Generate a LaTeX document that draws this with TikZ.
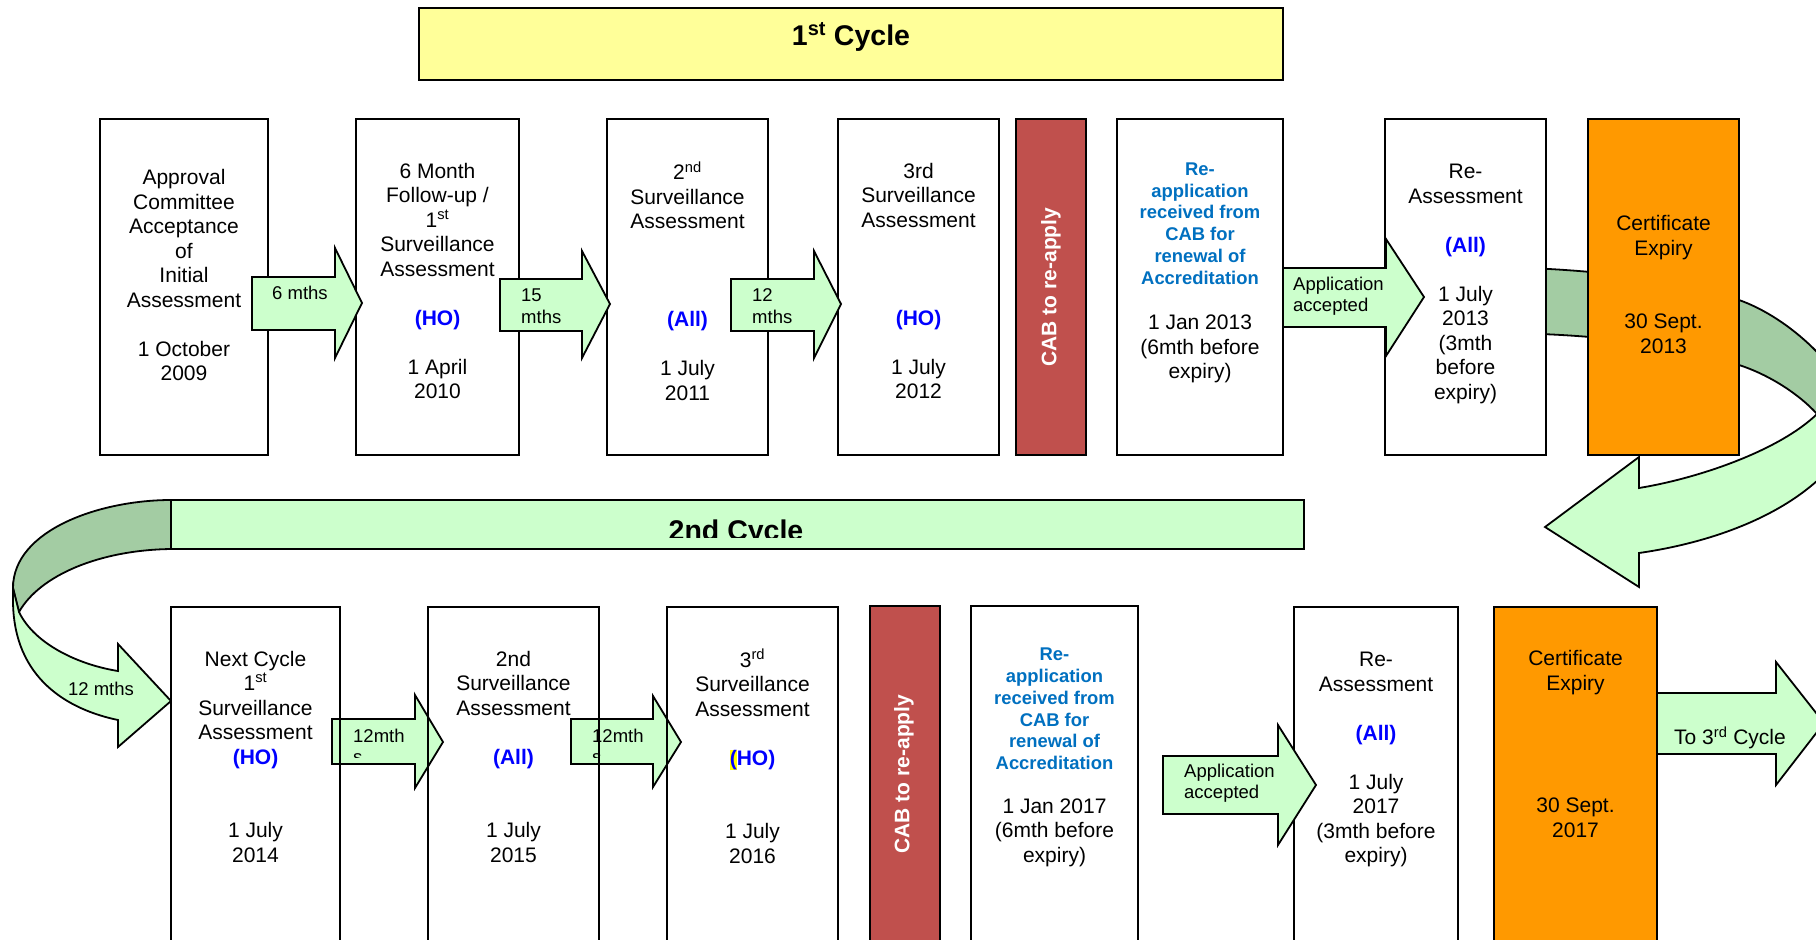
\documentclass[tikz,border=0pt]{standalone}
\usepackage{fontspec}
\setmainfont{Liberation Sans}
\definecolor{lgreen}{HTML}{CCFFCC}
\definecolor{dgreen}{HTML}{A3CCA3}
\definecolor{ttlyellow}{HTML}{FFFF99}
\definecolor{cabred}{HTML}{C0504D}
\definecolor{certorange}{HTML}{FF9900}
\definecolor{hoblue}{HTML}{0000FF}
\definecolor{reblue}{HTML}{0070C0}
\definecolor{hlyellow}{HTML}{FFFF00}
\newcommand{\hob}[1]{\textcolor{hoblue}{\bfseries #1}}
\newcommand{\bl}{\mbox{}}
\tikzset{
  rowone/.style={draw=black, line width=2pt, fill=white, inner sep=0pt, minimum height=336pt},
  rowtwo/.style={inner sep=0pt, minimum height=354pt},
  ribbon/.style={draw=black, line width=1.8pt, line join=miter},
  blk/.style={draw=black, line width=1.8pt, fill=lgreen, line join=miter},
  txt/.style={align=center, inner sep=0pt, font=\fontsize{21}{24.5}\selectfont},
  lbl/.style={align=left, inner sep=0pt, font=\fontsize{18.5}{21.5}\selectfont},
  bluetxt/.style={align=center, inner sep=0pt, text=reblue, font=\fontsize{18.4}{21.8}\selectfont\bfseries},
  cabtxt/.style={rotate=90, inner sep=0pt, text=white, font=\fontsize{21}{24}\selectfont\bfseries},
  bigtxt/.style={inner sep=0pt, font=\fontsize{28.5}{32}\selectfont\bfseries},
}
\begin{document}
\begin{tikzpicture}[x=1pt,y=-1pt]
\useasboundingbox (0,0) rectangle (1816,940);
\clip (0,0) rectangle (1816,940);

% ---------- title ----------
\node[draw=black, line width=2pt, fill=ttlyellow, inner sep=0pt, minimum width=864pt, minimum height=72pt] (title) at (851,44) {};
\node[bigtxt, anchor=base] (titletxt) at (851,45) {1\textsuperscript{st} Cycle};

% ---------- right curved ribbon arrow ----------
\draw[ribbon, fill=dgreen] (1500,267) .. controls (1620,270) and (1700,285) .. (1739,300)
  .. controls (1790,318) and (1845,370) .. (1860,420) -- (1817,414)
  .. controls (1800,395) and (1770,375) .. (1739,365)
  .. controls (1680,345) and (1600,334) .. (1500,333) -- cycle;
\draw[ribbon, fill=lgreen] (1817,414) .. controls (1780,450) and (1700,478) .. (1639,488)
  -- (1639,457) -- (1545,527) -- (1639,587) -- (1639,553)
  .. controls (1730,540) and (1830,500) .. (1860,420) -- cycle;

% ---------- row 1 boxes ----------
\node[rowone, minimum width=168pt] (b1) at (184,287) {};
\node[rowone, minimum width=163pt] (b2) at (437.5,287) {};
\node[rowone, minimum width=161pt] (b3) at (687.5,287) {};
\node[rowone, minimum width=161pt] (b4) at (918.5,287) {};
\node[rowone, minimum width=70pt, fill=cabred] (r1) at (1051,287) {};
\node[rowone, minimum width=166pt] (b5) at (1200,287) {};
\node[rowone, minimum width=161pt] (b6) at (1465.5,287) {};
\node[rowone, minimum width=151pt, fill=certorange] (o1) at (1663.5,287) {};

\node[txt] (t1) at (184,275) {Approval\\Committee\\Acceptance\\of\\Initial\\Assessment\\\bl\\1 October\\2009};
\node[txt] (t2) at (437.5,281) {6 Month\\Follow-up /\\1\textsuperscript{st}\\Surveillance\\Assessment\\\bl\\\hob{(HO)}\\\bl\\1 April\\2010};
\node[txt] (t3) at (687.5,281) {2\textsuperscript{nd}\\Surveillance\\Assessment\\\bl\\\bl\\\bl\\\hob{(All)}\\\bl\\1 July\\2011};
\node[txt] (t4) at (918.5,281) {3rd\\Surveillance\\Assessment\\\bl\\\bl\\\bl\\\hob{(HO)}\\\bl\\1 July\\2012};
\node[cabtxt] (c1) at (1051,287) {CAB to re-apply};
\node[bluetxt] (t5a) at (1200,223.5) {Re-\\application\\received from\\CAB for\\renewal of\\Accreditation};
\node[txt] (t5b) at (1200,349) {1 Jan 2013\\(6mth before\\expiry)};
\node[txt] (t6) at (1465.5,284) {Re-\\Assessment\\\bl\\\hob{(All)}\\\bl\\1 July\\2013\\(3mth\\before\\expiry)};
\node[txt] (t7) at (1663.5,284.5) {Certificate\\Expiry\\\bl\\\bl\\30 Sept.\\2013};

% ---------- row 1 block arrows ----------
\draw[blk] (252,277) -- (335,277) -- (335,248) -- (362,303) -- (335,358) -- (335,330) -- (252,330) -- cycle;
\node[lbl, anchor=center] (l1) at (300,293) {6 mths};
\draw[blk] (500,279) -- (582,279) -- (582,251) -- (610,304) -- (582,358) -- (582,331) -- (500,331) -- cycle;
\node[lbl, anchor=west] (l2) at (521,306) {15\\mths};
\draw[blk] (731,279) -- (814,279) -- (814,251) -- (841,304) -- (814,358) -- (814,331) -- (731,331) -- cycle;
\node[lbl, anchor=west] (l3) at (752,306) {12\\mths};
\draw[blk] (1283,268) -- (1386,268) -- (1386,239) -- (1424,297) -- (1386,356) -- (1386,327) -- (1283,327) -- cycle;
\node[lbl, anchor=west] (l5) at (1293,296) {Application\\accepted};

% ---------- left curved ribbon + 2nd cycle banner ----------
\draw[ribbon, fill=dgreen] (171,500) .. controls (100,500) and (13,530) .. (13,588) -- (19,612)
  .. controls (40,575) and (100,550) .. (171,549) -- cycle;
\draw[ribbon, fill=lgreen] (19,612) .. controls (35,645) and (80,665) .. (118,671)
  -- (118,644) -- (171,701) -- (118,747) -- (118,720)
  .. controls (70,710) and (13,680) .. (13,600) -- (13,588) -- cycle;
\node[lbl, anchor=center] (l6) at (101,689) {12 mths};
\node[draw=black, line width=2pt, fill=lgreen, inner sep=0pt, minimum width=1133pt, minimum height=49pt] (banner) at (737.5,524.5) {};
\begin{scope}
  \clip (171,500) rectangle (1304,537);
  \node[bigtxt, anchor=base] (cyc2) at (736,540) {2nd Cycle};
\end{scope}

% ---------- row 2 box backgrounds ----------
\node[rowtwo, fill=white, minimum width=169pt] (b7bg) at (255.5,784) {};
\node[rowtwo, fill=white, minimum width=171pt] (b8bg) at (513.5,784) {};
\node[rowtwo, fill=white, minimum width=171pt] (b9bg) at (752.5,784) {};

% ---------- row 2 block arrows ----------
\draw[blk] (332,719) -- (415,719) -- (415,695) -- (443,742) -- (415,788) -- (415,764) -- (332,764) -- cycle;
\begin{scope}
  \clip (332,719) rectangle (415,757);
  \node[lbl, anchor=west] (l7) at (353,746.5) {12mth\\s};
\end{scope}
\draw[blk] (571,719) -- (653,719) -- (653,696) -- (681,742) -- (653,787) -- (653,764) -- (571,764) -- cycle;
\begin{scope}
  \clip (571,719) rectangle (653,757);
  \node[lbl, anchor=west] (l8) at (592,746.5) {12mth\\s};
\end{scope}

% ---------- row 2 boxes ----------
\node[rowtwo, draw=black, line width=2pt, minimum width=169pt] (b7) at (255.5,784) {};
\node[rowtwo, draw=black, line width=2pt, minimum width=171pt] (b8) at (513.5,784) {};
\node[rowtwo, draw=black, line width=2pt, minimum width=171pt] (b9) at (752.5,784) {};
\node[rowtwo, draw=black, line width=2pt, fill=cabred, minimum width=70pt] (r2) at (905,783) {};
\node[rowtwo, draw=black, line width=2pt, fill=white, minimum width=167pt] (b10) at (1054.5,783) {};
\node[rowtwo, draw=black, line width=2pt, fill=white, minimum width=164pt] (b11) at (1376,784) {};
\node[rowtwo, draw=black, line width=2pt, fill=certorange, minimum width=163pt] (o2) at (1575.5,784) {};

\draw[blk] (1163,756) -- (1278,756) -- (1278,725) -- (1316,785) -- (1278,845) -- (1278,814) -- (1163,814) -- cycle;
\node[lbl, anchor=west] (l10) at (1184,783) {Application\\accepted};
\draw[blk] (1657,693) -- (1776,693) -- (1776,662) -- (1824,723) -- (1776,785) -- (1776,754) -- (1657,754) -- cycle;
\node[txt] (l12) at (1730,738) {To 3\textsuperscript{rd} Cycle};

\node[txt] (t8) at (255.5,756.5) {Next Cycle\\1\textsuperscript{st}\\Surveillance\\Assessment\\\hob{(HO)}\\\bl\\\bl\\1 July\\2014};
\node[txt] (t9) at (513.5,756.5) {2nd\\Surveillance\\Assessment\\\bl\\\hob{(All)}\\\bl\\\bl\\1 July\\2015};
\node[txt] (t10) at (752.5,756.5) {3\textsuperscript{rd}\\Surveillance\\Assessment\\\bl\\\hob{{\setlength{\fboxsep}{0pt}\colorbox{hlyellow}{(}}HO)}\\\bl\\\bl\\1 July\\2016};
\node[cabtxt] (c2) at (904,774) {CAB to re-apply};
\node[bluetxt] (t11a) at (1054.5,709) {Re-\\application\\received from\\CAB for\\renewal of\\Accreditation};
\node[txt] (t11b) at (1054.5,832.5) {1 Jan 2017\\(6mth before\\expiry)};
\node[txt] (t12) at (1376,759.5) {Re-\\Assessment\\\bl\\\hob{(All)}\\\bl\\1 July\\2017\\(3mth before\\expiry)};
\node[txt] (t13) at (1575.5,744) {Certificate\\Expiry\\\bl\\\bl\\\bl\\\bl\\30 Sept.\\2017};
\end{tikzpicture}
\end{document}
